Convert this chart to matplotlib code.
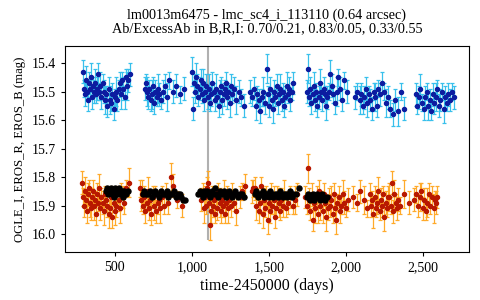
import numpy as np
import matplotlib
matplotlib.use('Agg')
import matplotlib.pyplot as plt
from matplotlib.ticker import FuncFormatter

plt.rcParams['font.family'] = ['Liberation Serif', 'DejaVu Serif']

# EROS_B (blue)
b_t = [292,298,305,311,318,324,331,337,344,350,357,363,370,376,383,390,398,405,413,420,428,436,444,452,460,468,476,484,492,500,508,516,524,532,540,548,556,564,572,580,588,596,
       695,702,710,717,725,732,740,748,756,764,772,780,790,800,812,825,840,855,875,900,925,948,
       1000,1005,1012,1020,1028,1035,1042,1050,1058,1065,1072,1080,1088,1095,1102,1110,1118,1126,1134,1142,1150,1158,1166,1174,1182,1190,1198,1206,1214,1222,1230,1238,1246,1254,1262,1275,1290,1305,1320,1340,
       1380,1392,1405,1415,1425,1435,1445,1455,1465,1475,1487,1495,1503,1511,1519,1527,1535,1543,1551,1559,1567,1575,1583,1591,1599,1607,1615,1623,1631,1640,1650,1660,
       1745,1753,1760,1768,1776,1784,1792,1800,1808,1816,1824,1832,1840,1848,1856,1864,1872,1880,1890,1900,1910,1920,1930,1940,1950,1960,1975,1990,2005,
       2060,2075,2090,2100,2110,2120,2130,2140,2150,2160,2170,2180,2190,2200,2210,2220,2235,2250,2262,2275,2290,2305,2320,2340,2360,2380,
       2455,2465,2475,2485,2495,2505,2515,2525,2535,2545,2555,2565,2575,2585,2595,2605,2615,2625,2635,2645,2655,2665,2675,2690,2705]
b_mag = [15.43,15.49,15.51,15.46,15.50,15.53,15.47,15.49,15.45,15.52,15.48,15.50,15.47,15.51,15.49,15.44,15.50,15.48,15.52,15.47,15.50,15.53,15.51,15.55,15.49,15.53,15.54,15.51,15.56,15.52,15.50,15.53,15.49,15.47,15.51,15.46,15.49,15.52,15.45,15.48,15.46,15.44,
         15.49,15.47,15.50,15.52,15.49,15.53,15.51,15.48,15.54,15.50,15.52,15.49,15.51,15.53,15.50,15.48,15.52,15.46,15.50,15.48,15.51,15.49,
         15.43,15.56,15.47,15.50,15.45,15.48,15.52,15.49,15.46,15.51,15.47,15.53,15.50,15.48,15.52,15.49,15.54,15.51,15.47,15.50,15.53,15.49,15.52,15.55,15.50,15.48,15.53,15.51,15.49,15.47,15.52,15.50,15.54,15.48,15.51,15.49,15.53,15.50,15.52,15.55,
         15.50,15.52,15.49,15.55,15.51,15.53,15.57,15.52,15.50,15.54,15.42,15.51,15.55,15.49,15.53,15.56,15.50,15.52,15.48,15.54,15.51,15.49,15.53,15.50,15.55,15.52,15.48,15.51,15.49,15.53,15.50,15.47,
         15.50,15.42,15.52,15.49,15.54,15.51,15.48,15.53,15.50,15.55,15.52,15.47,15.50,15.53,15.49,15.51,15.55,15.52,15.50,15.44,15.48,15.51,15.54,15.50,15.45,15.49,15.53,15.46,15.50,
         15.52,15.50,15.53,15.51,15.55,15.52,15.49,15.54,15.51,15.53,15.56,15.50,15.52,15.55,15.49,15.51,15.47,15.50,15.54,15.52,15.56,15.58,15.53,15.57,15.50,15.56,
         15.51,15.55,15.52,15.49,15.54,15.56,15.52,15.50,15.55,15.53,15.57,15.51,15.54,15.52,15.49,15.55,15.53,15.50,15.56,15.52,15.54,15.51,15.53,15.50,15.52]
b_err = [0.04,0.03,0.04,0.05,0.03,0.04,0.04,0.03,0.05,0.04,0.03,0.04,0.05,0.03,0.04,0.04,0.03,0.05,0.04,0.03,0.04,0.05,0.03,0.04,0.04,0.05,0.03,0.04,0.04,0.03,0.05,0.04,0.03,0.04,0.05,0.03,0.04,0.04,0.03,0.05,0.04,0.04,
         0.04,0.03,0.05,0.04,0.03,0.04,0.05,0.03,0.04,0.04,0.03,0.05,0.04,0.03,0.04,0.04,0.05,0.03,0.04,0.04,0.03,0.04,
         0.05,0.04,0.03,0.04,0.05,0.04,0.03,0.04,0.04,0.03,0.05,0.04,0.03,0.04,0.04,0.05,0.03,0.04,0.04,0.03,0.04,0.05,0.03,0.04,0.04,0.03,0.05,0.04,0.03,0.04,0.04,0.03,0.05,0.04,0.03,0.04,0.05,0.04,0.03,0.04,
         0.04,0.03,0.04,0.05,0.03,0.04,0.04,0.03,0.05,0.04,0.05,0.03,0.04,0.04,0.03,0.05,0.04,0.03,0.04,0.04,0.03,0.05,0.04,0.03,0.04,0.04,0.05,0.03,0.04,0.04,0.03,0.04,
         0.04,0.05,0.03,0.04,0.04,0.03,0.05,0.04,0.03,0.04,0.04,0.05,0.03,0.04,0.04,0.03,0.05,0.04,0.03,0.05,0.04,0.03,0.04,0.05,0.03,0.04,0.04,0.03,0.04,
         0.04,0.03,0.05,0.04,0.03,0.04,0.04,0.05,0.03,0.04,0.04,0.03,0.05,0.04,0.03,0.04,0.04,0.03,0.05,0.04,0.03,0.04,0.04,0.05,0.03,0.04,
         0.04,0.03,0.04,0.05,0.03,0.04,0.04,0.03,0.05,0.04,0.03,0.04,0.04,0.05,0.03,0.04,0.04,0.03,0.05,0.04,0.03,0.04,0.04,0.03,0.04]

# EROS_R (red)
r_t = [285,292,298,305,311,318,324,331,337,344,350,357,363,370,376,383,390,398,405,413,420,428,436,444,452,460,468,476,484,492,500,508,516,524,532,540,550,562,575,590,
       662,668,675,682,690,698,706,714,722,730,738,746,754,762,770,778,786,796,806,818,832,848,864,880,905,935,
       1062,1070,1078,1086,1094,1100,1105,1110,1117,1124,1131,1138,1145,1152,1159,1166,1173,1180,1187,1194,1201,1208,1215,1222,1229,1236,1244,1252,1262,1275,1290,1310,1328,1345,
       1390,1400,1410,1420,1428,1436,1444,1452,1460,1468,1476,1484,1492,1500,1508,1516,1524,1532,1540,1548,1556,1564,1572,1580,1590,1600,1612,1625,1640,1655,1670,1685,
       1735,1745,1753,1762,1770,1778,1786,1794,1802,1810,1818,1826,1834,1842,1850,1858,1866,1874,1882,1890,1898,1906,1914,1922,1930,1938,1946,1954,1962,1970,1980,1990,2000,2012,
       2045,2070,2095,2120,2140,2155,2163,2171,2179,2187,2195,2203,2211,2219,2227,2235,2243,2251,2259,2267,2275,2283,2291,2299,2307,2315,2323,2331,2340,2350,2380,2410,
       2440,2455,2470,2480,2490,2500,2510,2520,2530,2540,2550,2560,2570,2580,2588,2595]
r_mag = [15.82,15.87,15.90,15.85,15.88,15.92,15.86,15.84,15.89,15.91,15.87,15.85,15.90,15.88,15.93,15.86,15.89,15.84,15.91,15.87,15.89,15.92,15.86,15.88,15.90,15.93,15.91,15.87,15.94,15.89,15.92,15.90,15.86,15.88,15.91,15.85,15.87,15.89,15.84,15.82,
         15.84,15.88,15.86,15.90,15.87,15.92,15.89,15.85,15.91,15.88,15.93,15.87,15.90,15.86,15.92,15.89,15.88,15.91,15.87,15.90,15.86,15.89,15.80,15.83,15.88,15.90,
         15.88,15.85,15.91,15.87,15.90,15.84,15.82,15.89,15.97,15.92,15.86,15.90,15.88,15.93,15.87,15.91,15.85,15.89,15.92,15.88,15.90,15.86,15.93,15.89,15.87,15.91,15.88,15.90,15.86,15.89,15.92,15.87,15.85,15.83,
         15.85,15.84,15.84,15.90,15.87,15.92,15.89,15.83,15.93,15.88,15.91,15.87,15.95,15.89,15.92,15.86,15.90,15.88,15.94,15.91,15.87,15.89,15.92,15.88,15.90,15.86,15.91,15.89,15.87,15.90,15.88,15.86,
         15.87,15.90,15.77,15.88,15.92,15.86,15.95,15.89,15.91,15.87,15.93,15.85,15.90,15.88,15.92,15.86,15.89,15.94,15.91,15.87,15.90,15.88,15.93,15.86,15.91,15.95,15.89,15.87,15.92,15.90,15.86,15.89,15.91,15.88,
         15.87,15.89,15.85,15.88,15.91,15.86,15.90,15.88,15.93,15.87,15.91,15.89,15.85,15.92,15.88,15.90,15.86,15.94,15.89,15.91,15.87,15.87,15.90,15.82,15.92,15.86,15.89,15.91,15.88,15.90,15.86,15.89,
         15.88,15.86,15.90,15.87,15.85,15.91,15.88,15.92,15.89,15.86,15.90,15.87,15.91,15.88,15.89,15.87]
r_err = [0.04,0.03,0.04,0.05,0.03,0.04,0.04,0.03,0.05,0.04,0.03,0.04,0.05,0.03,0.04,0.04,0.03,0.05,0.04,0.03,0.04,0.05,0.03,0.04,0.04,0.05,0.03,0.04,0.04,0.03,0.05,0.04,0.03,0.04,0.05,0.03,0.04,0.04,0.03,0.05,
         0.03,0.04,0.05,0.03,0.04,0.04,0.03,0.05,0.04,0.03,0.04,0.04,0.05,0.03,0.04,0.04,0.03,0.05,0.04,0.03,0.04,0.04,0.05,0.04,0.03,0.04,
         0.04,0.03,0.05,0.04,0.03,0.04,0.04,0.03,0.05,0.04,0.03,0.04,0.05,0.03,0.04,0.04,0.03,0.05,0.04,0.03,0.04,0.05,0.03,0.04,0.04,0.05,0.03,0.04,0.04,0.03,0.05,0.04,0.03,0.04,
         0.04,0.03,0.04,0.05,0.03,0.04,0.04,0.03,0.05,0.04,0.03,0.04,0.05,0.03,0.04,0.04,0.03,0.05,0.04,0.03,0.04,0.05,0.03,0.04,0.04,0.05,0.03,0.04,0.04,0.03,0.05,0.04,
         0.04,0.03,0.05,0.04,0.03,0.04,0.04,0.03,0.05,0.04,0.03,0.04,0.05,0.03,0.04,0.04,0.03,0.05,0.04,0.03,0.04,0.05,0.03,0.04,0.04,0.05,0.03,0.04,0.04,0.03,0.05,0.04,0.03,0.04,
         0.04,0.03,0.04,0.05,0.03,0.04,0.04,0.03,0.05,0.04,0.03,0.04,0.05,0.03,0.04,0.04,0.03,0.05,0.04,0.03,0.04,0.05,0.03,0.04,0.04,0.05,0.03,0.04,0.04,0.03,0.05,0.04,
         0.04,0.03,0.04,0.05,0.03,0.04,0.04,0.03,0.05,0.04,0.03,0.04,0.05,0.03,0.04,0.04]

# OGLE_I (black)
o_t = [440,448,456,464,472,480,488,496,504,512,520,528,536,544,552,560,570,585,
       680,692,704,716,728,740,752,764,776,788,800,812,824,836,848,860,872,884,896,908,920,932,944,956,
       1040,1050,1060,1070,1080,1090,1100,1110,1120,1130,1140,1150,1160,1170,1180,1190,1200,1210,1220,1230,1240,1250,1260,1270,1280,1290,1300,1310,1325,1340,
       1410,1420,1430,1440,1450,1460,1470,1480,1490,1500,1510,1520,1530,1540,1550,1560,1570,1580,1590,1600,1610,1620,1630,1640,1650,1660,1675,1695,
       1745,1755,1765,1775,1785,1795,1805,1815,1825,1835,1845,1855,1865,1880]
o_mag = [15.85,15.84,15.86,15.85,15.84,15.86,15.85,15.87,15.84,15.86,15.85,15.84,15.86,15.85,15.87,15.85,15.86,15.85,
         15.86,15.85,15.86,15.86,15.85,15.87,15.86,15.85,15.86,15.87,15.85,15.86,15.86,15.85,15.87,15.86,15.86,15.85,15.87,15.86,15.86,15.87,15.88,15.88,
         15.86,15.85,15.86,15.87,15.85,15.86,15.85,15.86,15.87,15.85,15.86,15.84,15.86,15.87,15.85,15.86,15.86,15.85,15.87,15.86,15.85,15.86,15.87,15.86,15.85,15.86,15.87,15.86,15.86,15.87,
         15.86,15.85,15.87,15.86,15.86,15.85,15.87,15.86,15.86,15.87,15.85,15.86,15.87,15.86,15.86,15.87,15.85,15.86,15.87,15.86,15.86,15.87,15.86,15.85,15.87,15.86,15.86,15.84,
         15.87,15.86,15.88,15.87,15.86,15.88,15.87,15.86,15.87,15.88,15.86,15.87,15.88,15.87]

t_mark = 1104
xticks = [500, 1000, 1500, 2000, 2500]
yticks = [15.4, 15.5, 15.6, 15.7, 15.8, 15.9, 16.0]

fig = plt.figure(figsize=(4.8, 3.0), dpi=100)
ax = fig.add_axes([0.135, 0.16, 0.842, 0.687])

ax.vlines(t_mark, 15.338, 16.02, color='#b0b0b0', lw=1.5, zorder=1)

ax.errorbar(b_t, b_mag, yerr=b_err, fmt='o', ms=2.9, color='#0c1ca0', ecolor='#38c0ec',
            elinewidth=0.9, capsize=1.5, capthick=0.9, zorder=2)
ax.errorbar(r_t, r_mag, yerr=r_err, fmt='o', ms=2.9, color='#b81800', ecolor='#ffaa2a',
            elinewidth=0.9, capsize=1.5, capthick=0.9, zorder=2)
ax.plot(o_t, o_mag, 'o', ms=3.6, color='black', zorder=3)

ax.set_xlim(175, 2800)
ax.set_ylim(16.063, 15.340)
ax.set_xticks(xticks)
ax.set_yticks(yticks)
ax.xaxis.set_major_formatter(FuncFormatter(lambda v, p: '{:,.0f}'.format(v)))
ax.yaxis.set_major_formatter(FuncFormatter(lambda v, p: '{:.1f}'.format(v)))
ax.tick_params(labelsize=10, length=3)

ax.set_title('lm0013m6475 - lmc_sc4_i_113110 (0.64 arcsec)\nAb/ExcessAb in B,R,I: 0.70/0.21, 0.83/0.05, 0.33/0.55',
             fontsize=10.3, pad=10, linespacing=1.05)
ax.set_xlabel('time-2450000 (days)', fontsize=11.5, labelpad=3)
ax.set_ylabel('OGLE_I, EROS_R, EROS_B (mag)', fontsize=9.2)

fig.savefig('out.png', dpi=100)
